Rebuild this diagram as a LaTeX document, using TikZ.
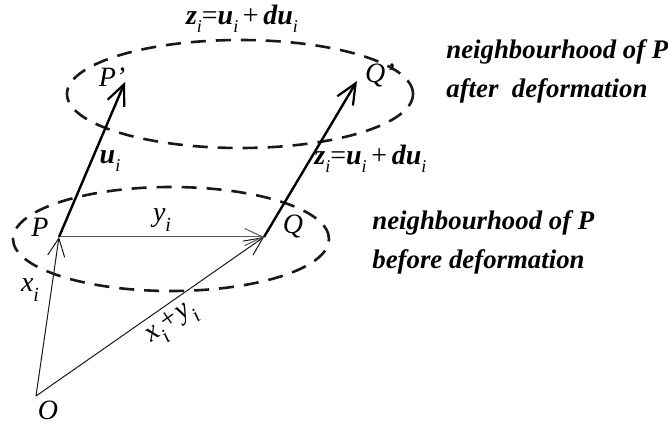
\documentclass[tikz,border=0pt]{standalone}
\usepackage{fontspec}
\setmainfont{Liberation Serif}
\usepackage{tikz}
\usetikzlibrary{positioning,arrows.meta}
\newcommand{\subi}{\raisebox{-0.8ex}{\fontsize{10}{10}\selectfont i}}
\newcommand{\bsubi}{\raisebox{-0.6ex}{\fontsize{9}{9}\selectfont\mdseries i}}
\newcommand{\zeq}{z\bsubi{\mdseries\upshape =}u\bsubi\,{\mdseries\upshape +}\,du\bsubi}
\tikzset{
  nbhd/.style   = {dashed, line width=1.3pt, dash pattern=on 7.5pt off 5pt, draw=black!90},
  thinvec/.style = {-{Straight Barb[length=3.2mm, width=3mm]}, line width=0.5pt, draw=black!90},
  greyvec/.style = {-{Straight Barb[length=3.2mm, width=3mm]}, line width=0.5pt, draw=black!65},
  thickvec/.style = {-{Straight Barb[length=3.6mm, width=3.2mm, line width=1.1pt]}, line width=1.2pt, draw=black},
  ptlbl/.style  = {font=\fontsize{14}{16}\selectfont\itshape, inner sep=1pt},
  vlbl/.style   = {font=\fontsize{14}{16}\selectfont\bfseries\itshape, inner sep=1pt},
  note/.style   = {font=\fontsize{13.4}{19.5}\selectfont\bfseries\itshape, align=left, anchor=west, inner sep=0pt},
}
\begin{document}
\begin{tikzpicture}[x=0.5pt, y=0.5pt]
  \useasboundingbox (0,0) rectangle (668,423);

  \coordinate (O)  at (36,27);
  \coordinate (P)  at (59,186);
  \coordinate (Q)  at (264,186);
  \coordinate (Pd) at (125,341);
  \coordinate (Qd) at (357,342);

  \draw[nbhd] (171,184) ellipse [x radius=158, y radius=52];
  \draw[nbhd] (240,329) ellipse [x radius=173, y radius=54];

  \draw[thinvec] (O)--(P);
  \draw[thinvec] (O)--(Q);
  \draw[greyvec] (P)--(Q);
  \draw[thickvec] (P)--(Pd);
  \draw[thickvec] (Q)--(Qd);

  \node[ptlbl] (lO)  at (48,13)  {O};
  \node[ptlbl] (lP)  at (40,196) {P};
  \node[ptlbl] (lQ)  at (293,196) {Q};
  \node[ptlbl] (lPd) at (112,346) {P'};
  \node[ptlbl] (lQd) at (380,348) {Q'};

  \node[ptlbl] (lx)  at (30,133) {x\subi};
  \node[ptlbl] (ly)  at (162,203) {y\subi};
  \node[ptlbl, rotate=35] (lxy) at (172,99) {x\subi+y\subi};
  \node[vlbl] (lu)  at (110,262) {u\bsubi};
  \node[vlbl, anchor=west] (lz) at (312,264) {\zeq};
  \node[vlbl] (ztop) at (242,404) {\zeq};

  \node[note] (after)  at (446,352) {neighbourhood of P\\after\ \ deformation};
  \node[note] (before) at (372,181) {neighbourhood of P\\before deformation};
\end{tikzpicture}
\end{document}
